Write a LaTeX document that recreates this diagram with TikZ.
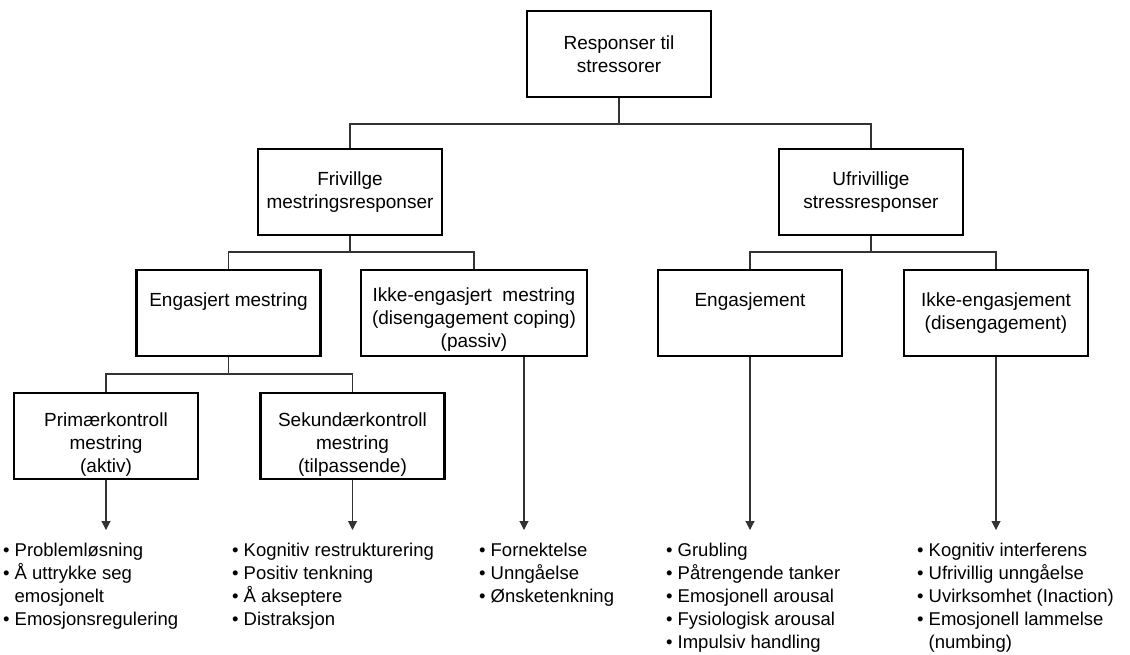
\documentclass[tikz,border=0pt]{standalone}
\usepackage{fontspec}
\setmainfont{Liberation Sans}
\usetikzlibrary{arrows.meta}

\begin{document}
\begin{tikzpicture}[x=1pt, y=-1pt,
    box/.style={draw, line width=2.5pt, minimum width=184pt, minimum height=86pt,
      inner sep=0pt, align=center, font=\fontsize{19}{23}\selectfont},
    wire/.style={draw=black!80, line width=1.1pt},
    pointer/.style={wire, -{Triangle[length=9pt, width=9pt]}},
    items/.style={anchor=base west, inner sep=0pt, font=\fontsize{18.5}{23}\selectfont}]
    \useasboundingbox (0,0) rectangle (1130,655);

    % Top level.
    \node[box] (top) at (619,54) {Responser til\\stressorer};

    % Second level.
    \node[box] (friv)  at (350,192) {Frivillge\\mestringsresponser};
    \node[box] (ufriv) at (871,192) {Ufrivillige\\stressresponser};

    % Third level (one-line boxes keep their text near the top).
    \node[box, text height=14pt, text depth=27pt] (engm) at (228.5,313) {Engasjert mestring};
    \node[box, minimum width=226pt, text height=72pt] (ikkem) at (474,313)
      {Ikke-engasjert\hspace{0.55em}mestring\\(disengagement coping)\\(passiv)};
    \node[box, text height=14pt, text depth=27pt] (engs) at (750,313) {Engasjement};
    \node[box] (ikkes) at (996,313) {Ikke-engasjement\\(disengagement)};

    % Fourth level.
    \node[box, text height=76pt] (prim) at (106,436) {Primærkontroll\\mestring\\(aktiv)};
    \node[box, text height=76pt] (sek)  at (352.5,436) {Sekundærkontroll\\mestring\\(tilpassende)};

    % Tree connectors.
    \coordinate (bus0) at (619,124);
    \coordinate (bus1) at (350,252);
    \coordinate (bus2) at (871,252);
    \coordinate (bus3) at (228.5,374);
    \draw[wire] (top) -- (bus0);
    \draw[wire] (friv.north) |- (bus0) -| (ufriv.north);
    \draw[wire] (friv) -- (bus1);
    \draw[wire] (engm.north) |- (bus1) -| (ikkem.north);
    \draw[wire] (ufriv) -- (bus2);
    \draw[wire] (engs.north) |- (bus2) -| (ikkes.north);
    \draw[wire] (engm) -- (bus3);
    \draw[wire] (prim.north) |- (bus3) -| (sek.north);

    % Arrows down to the lists.
    \coordinate (tipA) at (106,530);
    \coordinate (tipB) at (352.5,530);
    \coordinate (tipC) at (524,530);
    \coordinate (tipD) at (750,530);
    \coordinate (tipE) at (996,530);
    \draw[pointer] (prim) -- (tipA);
    \draw[pointer] (sek) -- (tipB);
    \draw[pointer] (ikkem.south -| tipC) -- (tipC);
    \draw[pointer] (engs) -- (tipD);
    \draw[pointer] (ikkes) -- (tipE);

    % Lists.
    \node[items] (listA) at (3,556) {\begin{tabular}[t]{@{}l@{\hspace{5pt}}l@{}}
      \textbullet & Problemløsning\\
      \textbullet & Å uttrykke seg\\
                  & emosjonelt\\
      \textbullet & Emosjonsregulering
    \end{tabular}};
    \node[items] (listB) at (232,556) {\begin{tabular}[t]{@{}l@{\hspace{5pt}}l@{}}
      \textbullet & Kognitiv restrukturering\\
      \textbullet & Positiv tenkning\\
      \textbullet & Å akseptere\\
      \textbullet & Distraksjon
    \end{tabular}};
    \node[items] (listC) at (479,556) {\begin{tabular}[t]{@{}l@{\hspace{5pt}}l@{}}
      \textbullet & Fornektelse\\
      \textbullet & Unngåelse\\
      \textbullet & Ønsketenkning
    \end{tabular}};
    \node[items] (listD) at (666,556) {\begin{tabular}[t]{@{}l@{\hspace{5pt}}l@{}}
      \textbullet & Grubling\\
      \textbullet & Påtrengende tanker\\
      \textbullet & Emosjonell arousal\\
      \textbullet & Fysiologisk arousal\\
      \textbullet & Impulsiv handling
    \end{tabular}};
    \node[items] (listE) at (917,556) {\begin{tabular}[t]{@{}l@{\hspace{5pt}}l@{}}
      \textbullet & Kognitiv interferens\\
      \textbullet & Ufrivillig unngåelse\\
      \textbullet & Uvirksomhet (Inaction)\\
      \textbullet & Emosjonell lammelse\\
                  & (numbing)
    \end{tabular}};
  \end{tikzpicture}
\end{document}
